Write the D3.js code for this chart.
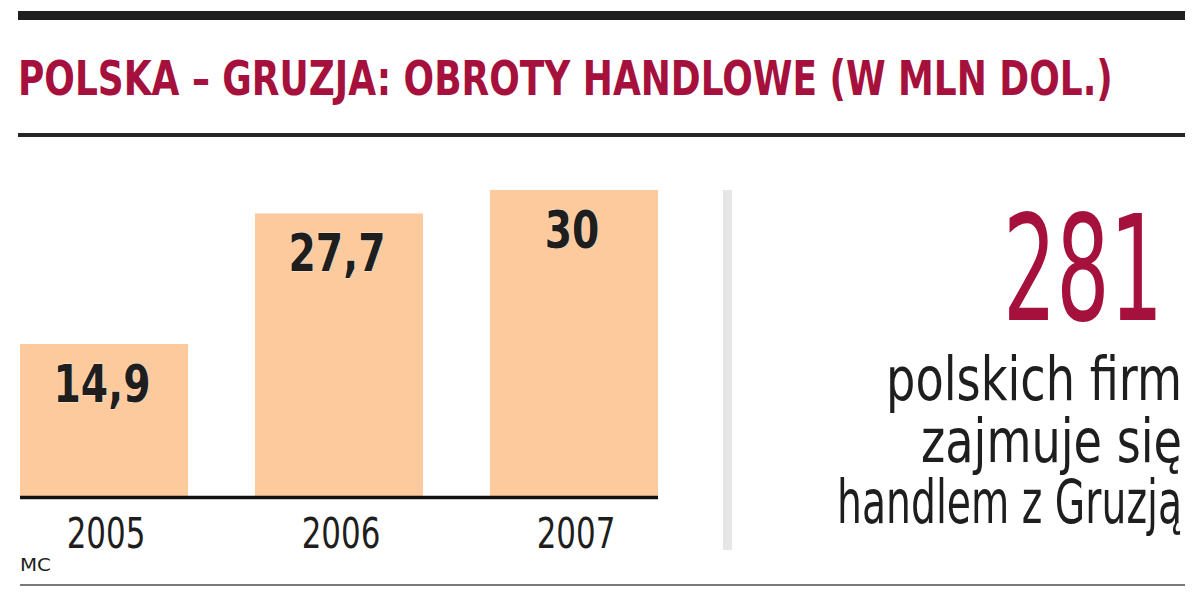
<!DOCTYPE html>
<html>
<head>
<meta charset="utf-8">
<script src="https://cdn.jsdelivr.net/npm/d3@7"></script>
<style>
  html, body { margin: 0; padding: 0; background: #fff; }
  svg { display: block; }
  text { font-family: "DejaVu Sans Condensed", "DejaVu Sans", sans-serif; font-stretch: condensed; }
</style>
</head>
<body>
<svg id="chart" width="1200" height="598"></svg>
<script>
// ---- data ----
const years = ["2005", "2006", "2007"];
const values = [14.9, 27.7, 30];
const valueLabels = ["14,9", "27,7", "30"];
const title = "POLSKA – GRUZJA: OBROTY HANDLOWE (W MLN DOL.)";
const bigNumber = "281";
const sideLines = ["polskich firm", "zajmuje się", "handlem z Gruzją"];
const source = "MC";

// ---- styles ----
const RED = "#a6103c";
const BAR = "#fdca9d";
const INK = "#1e1e1e";

const svg = d3.select("#chart");

// helper: place a text at (x,y), compressed horizontally to a target width (or by a factor)
function squeeze(sel, x, y, target) {
  sel.each(function(d, i) {
    const w = this.getComputedTextLength();
    const t = typeof target === "function" ? target(w, d, i) : target;
    const k = t / w;
    const xx = typeof x === "function" ? x(d, i) : x;
    const yy = typeof y === "function" ? y(d, i) : y;
    d3.select(this).attr("x", 0).attr("y", 0)
      .attr("transform", `translate(${xx},${yy}) scale(${k},1)`);
  });
}

// rules
svg.append("rect").attr("x", 18).attr("y", 11).attr("width", 1167).attr("height", 9).attr("fill", "#1f1f1f");
svg.append("rect").attr("x", 18).attr("y", 133).attr("width", 1167).attr("height", 4).attr("fill", "#262626");
svg.append("rect").attr("x", 20).attr("y", 584).attr("width", 1165).attr("height", 2).attr("fill", "#7a7a7a");

// title
svg.append("text")
  .attr("fill", RED)
  .attr("font-weight", "bold")
  .attr("font-size", 48)
  .text(title)
  .call(squeeze, 18, 95, 1095);

// ---- bar chart ----
const x = d3.scaleBand().domain(years).range([20, 658]).paddingInner(0.285).paddingOuter(0);
const y = d3.scaleLinear().domain([0, 30]).range([496, 190]);

const g = svg.append("g");
g.selectAll("rect.bar")
  .data(years)
  .join("rect")
  .attr("class", "bar")
  .attr("x", d => x(d))
  .attr("width", x.bandwidth())
  .attr("y", (d, i) => y(values[i]))
  .attr("height", (d, i) => y(0) - y(values[i]))
  .attr("fill", BAR);

// value labels
g.selectAll("text.val")
  .data(years)
  .join("text")
  .attr("class", "val")
  .attr("text-anchor", "middle")
  .attr("font-weight", "bold")
  .attr("font-size", 52)
  .attr("fill", INK)
  .attr("stroke", "#fff")
  .attr("stroke-width", 0.6)
  .attr("paint-order", "stroke")
  .text((d, i) => valueLabels[i])
  .call(squeeze, d => x(d) + x.bandwidth() / 2 - 2, (d, i) => y(values[i]) + 58, w => w * 0.84);

// x axis
const xAxis = d3.axisBottom(x).tickSize(0).tickPadding(0);
const ax = svg.append("g").attr("transform", `translate(0,${y(0)})`).call(xAxis);
ax.select(".domain").attr("stroke", "#111").attr("stroke-width", 3.5).attr("d", `M20,1.5H658`);
ax.selectAll(".tick text")
  .attr("font-size", 43)
  .attr("fill", INK)
  .attr("dy", 0)
  .style("font-family", '"DejaVu Sans Condensed", "DejaVu Sans", sans-serif')
  .call(squeeze, 2, 52, w => w * 0.8);

// source
svg.append("text")
  .attr("font-size", 17)
  .attr("fill", INK)
  .text(source)
  .call(squeeze, 20, 571, 31);

// ---- right panel ----
svg.append("rect").attr("x", 723).attr("y", 190).attr("width", 9).attr("height", 360).attr("fill", "#e6e6e6");

svg.append("text")
  .attr("text-anchor", "end")
  .attr("font-size", 147)
  .attr("fill", RED)
  .text(bigNumber)
  .call(squeeze, 1163, 320, 160);

const sideWidths = [296, 261, 345];
const sideBase = [400, 462, 523];
svg.selectAll("text.side")
  .data(sideLines)
  .join("text")
  .attr("class", "side")
  .attr("text-anchor", "end")
  .attr("font-size", 60)
  .attr("fill", INK)
  .text(d => d)
  .call(squeeze, 1182, (d, i) => sideBase[i], (w, d, i) => sideWidths[i]);
</script>
</body>
</html>
